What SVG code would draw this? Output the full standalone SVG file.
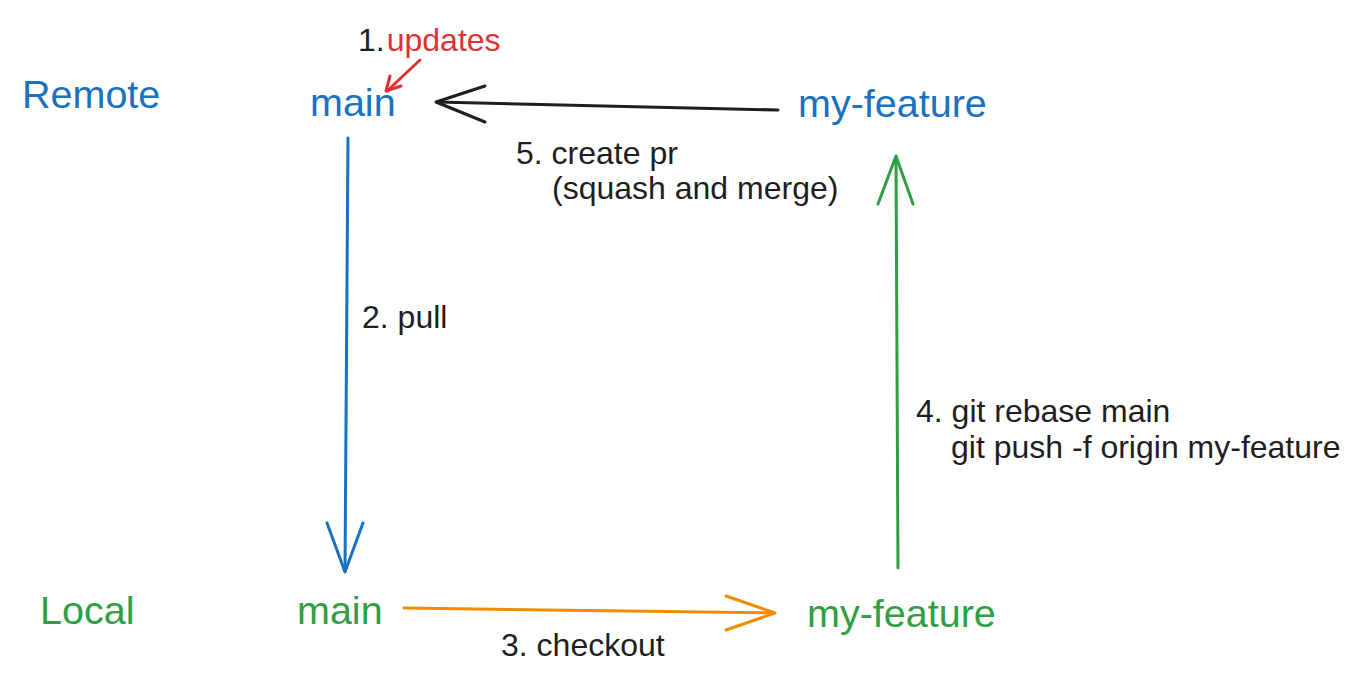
<svg xmlns="http://www.w3.org/2000/svg" width="1360" height="683" viewBox="0 0 1360 683">
<style>
  text { font-family: "Liberation Sans", Arial, Helvetica, sans-serif; }
  .big { font-size: 39.5px; }
  .lbl { font-size: 32px; fill: #1e1e1e; }
  .blue { fill: #1971c2; }
  .green { fill: #2f9e44; }
  .red { fill: #e03131; }
  .edge { fill: none; stroke-width: 3; stroke-linecap: round; stroke-linejoin: round; }
  .s-black { stroke: #1e1e1e; }
  .s-blue { stroke: #1971c2; }
  .s-green { stroke: #2f9e44; }
  .s-orange { stroke: #f08c00; }
  .s-red { stroke: #e03131; }
</style>
<rect width="1360" height="683" fill="#ffffff"/>

<g id="connectors">
  <g id="edge-updates">
    <path class="edge s-red" d="M420,60 L387,91"/>
    <path class="edge s-red" d="M390,76 L386,91 L401,86"/>
  </g>
  <g id="edge-pr">
    <path class="edge s-black" d="M778,110 L437,102"/>
    <path class="edge s-black" d="M485,86 L436,102 L485,122"/>
  </g>
  <g id="edge-pull">
    <path class="edge s-blue" d="M348,138 L345,571"/>
    <path class="edge s-blue" d="M327,523 L345,572 L363,523"/>
  </g>
  <g id="edge-checkout">
    <path class="edge s-orange" d="M404,608 L774,613"/>
    <path class="edge s-orange" d="M726,596 L775,613 L726,630"/>
  </g>
  <g id="edge-rebase">
    <path class="edge s-green" d="M898,568 L896,158"/>
    <path class="edge s-green" d="M878,204 L896,156 L913,204"/>
  </g>
</g>

<g id="remote-label"><text class="big blue" x="22" y="108">Remote</text></g>
<g id="local-label"><text class="big green" x="40" y="624">Local</text></g>
<g id="remote-main"><text class="big blue" x="310" y="116">main</text></g>
<g id="remote-my-feature"><text class="big blue" x="798" y="117">my-feature</text></g>
<g id="local-main"><text class="big green" x="297" y="624">main</text></g>
<g id="local-my-feature"><text class="big green" x="807" y="627">my-feature</text></g>

<g id="labels">
  <text class="lbl" x="358" y="51">1.<tspan class="red" dx="2">updates</tspan></text>
  <text class="lbl" x="516" y="164">5. create pr</text>
  <text class="lbl" x="552" y="199">(squash and merge)</text>
  <text class="lbl" x="362" y="328">2. pull</text>
  <text class="lbl" x="916" y="422">4. git rebase main</text>
  <text class="lbl" x="951" y="458">git push -f origin my-feature</text>
  <text class="lbl" x="501" y="656">3. checkout</text>
</g>
</svg>
